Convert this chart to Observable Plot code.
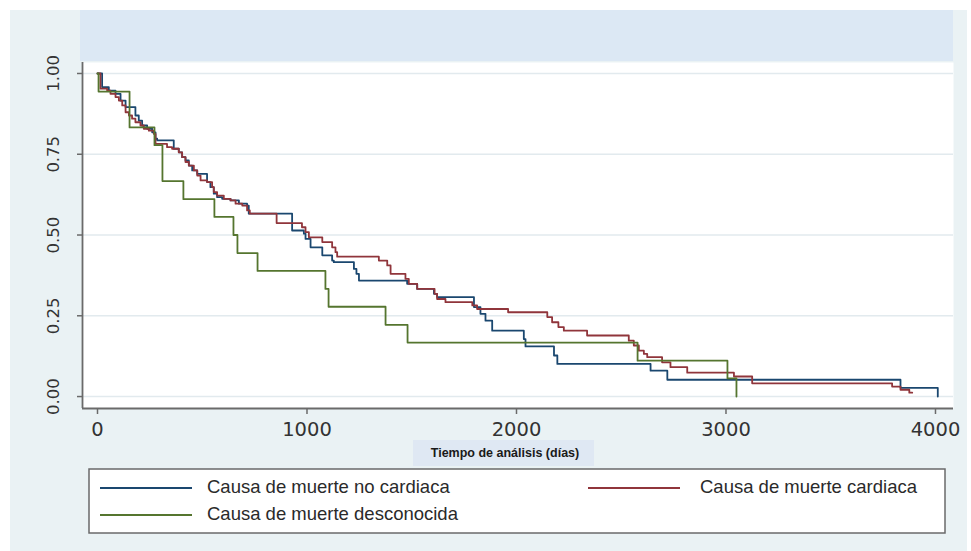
<!DOCTYPE html>
<html>
<head>
<meta charset="utf-8">
<script src="https://cdn.jsdelivr.net/npm/d3@7"></script>
<script src="https://cdn.jsdelivr.net/npm/@observablehq/plot@0.6"></script>
<style>
  html, body { margin: 0; padding: 0; background: #ffffff; }
  #chart svg { display: block; }
</style>
</head>
<body>
<div id="chart"></div>
<script>
// ---------------- DATA ----------------
const seriesNames = ["Causa de muerte no cardiaca", "Causa de muerte cardiaca", "Causa de muerte desconocida"];
const seriesColors = ["#1a476f", "#90353b", "#55752f"];

// Kaplan–Meier: causa de muerte no cardiaca
const tNoCardiaca = [0,22,54,86,110,134,181,197,213,237,261,277,285,364,388,404,420,436,452,476,523,539,555,571,595,635,675,714,722,929,985,993,1017,1073,1120,1128,1224,1236,1248,1478,1526,1606,1621,1797,1828,1852,1884,2035,2043,2179,2195,2640,2720,3833,4011];
const sNoCardiaca = [1,0.958,0.947,0.937,0.916,0.896,0.870,0.854,0.839,0.829,0.818,0.798,0.793,0.767,0.756,0.741,0.731,0.715,0.700,0.689,0.664,0.648,0.628,0.617,0.612,0.607,0.597,0.591,0.566,0.514,0.504,0.488,0.462,0.437,0.421,0.416,0.395,0.380,0.359,0.349,0.333,0.318,0.308,0.277,0.256,0.235,0.204,0.178,0.155,0.127,0.101,0.080,0.052,0.027,0];

// Kaplan–Meier: causa de muerte cardiaca
const tCardiaca = [0,14,46,62,86,102,118,134,150,165,181,205,221,245,269,277,332,356,388,404,420,436,460,476,492,523,547,555,571,603,635,659,691,714,727,855,976,993,1009,1073,1120,1136,1144,1343,1383,1399,1470,1486,1526,1609,1621,1661,1789,1812,1960,2147,2170,2200,2226,2337,2536,2560,2584,2608,2624,2695,2735,2815,3038,3125,3793,3833,3875,3889];
const sCardiaca = [1,0.953,0.947,0.937,0.927,0.916,0.901,0.880,0.870,0.860,0.849,0.839,0.829,0.823,0.813,0.782,0.772,0.767,0.756,0.741,0.726,0.715,0.700,0.684,0.669,0.664,0.648,0.633,0.622,0.612,0.607,0.597,0.591,0.576,0.566,0.537,0.524,0.509,0.493,0.478,0.462,0.447,0.433,0.421,0.406,0.380,0.364,0.349,0.333,0.318,0.302,0.292,0.282,0.271,0.261,0.246,0.230,0.215,0.204,0.189,0.173,0.158,0.142,0.132,0.122,0.106,0.091,0.074,0.062,0.041,0.031,0.021,0.012,0.012];

// Kaplan–Meier: causa de muerte desconocida
const tDesconocida = [0,5,153,272,310,410,558,649,668,764,1088,1103,1375,1480,2578,3007,3050];
const sDesconocida = [1,0.944,0.833,0.778,0.667,0.611,0.556,0.5,0.444,0.389,0.333,0.278,0.222,0.167,0.111,0.056,0];

const xTicks = [0, 1000, 2000, 3000, 4000];
const yTicks = [0, 0.25, 0.5, 0.75, 1];
const xTitle = "Tiempo de análisis (días)";

// ---------------- BUILD ----------------
const seriesTimes = [tNoCardiaca, tCardiaca, tDesconocida];
const seriesSurv = [sNoCardiaca, sCardiaca, sDesconocida];
const rows = [];
seriesNames.forEach((name, i) => {
  seriesTimes[i].forEach((t, j) => rows.push({group: name, t, s: seriesSurv[i][j]}));
});

const W = 971, H = 551;
const xDomain = [-71.6, 4086];
const yDomain = [-0.037, 1.034];
const axisColor = "#6a6a6a";
const textColor = "#333333";

const chart = Plot.plot({
  width: W,
  height: H,
  marginLeft: 82,
  marginRight: 18,
  marginTop: 62,
  marginBottom: 143,
  x: {domain: xDomain},
  y: {domain: yDomain},
  color: {domain: seriesNames, range: seriesColors},
  style: {background: "transparent", fontFamily: "'DejaVu Sans', sans-serif", color: textColor, overflow: "visible"},
  marks: [
    Plot.frame({fill: "#ffffff", stroke: null}),
    Plot.gridY(yTicks, {stroke: "#e2eaee", strokeOpacity: 1, strokeWidth: 1.6}),
    Plot.line(rows, {x: "t", y: "s", z: "group", stroke: "group", curve: "step-after", strokeWidth: 1.8}),
    Plot.ruleX([xDomain[0]], {stroke: axisColor, strokeWidth: 1.8}),
    Plot.ruleY([yDomain[0]], {stroke: axisColor, strokeWidth: 1.8}),
    Plot.axisX(xTicks, {tickSize: 6, tickPadding: 8, fontSize: 19.5, stroke: axisColor, strokeWidth: 1.5, fill: textColor, label: null, tickFormat: d => String(d)}),
    Plot.axisY(yTicks, {tickSize: 5, stroke: axisColor, strokeWidth: 1.5, tickFormat: () => "", label: null}),
    Plot.text(yTicks, {y: d => d, text: d => d3.format(".2f")(d), frameAnchor: "left", dx: -29, rotate: -90, textAnchor: "middle", lineAnchor: "middle", fontSize: 16.5, fill: textColor})
  ]
});

// ---------------- DECORATION (background panels, x title, legend) ----------------
const svg = d3.select(chart);
const bg = svg.insert("g", ":first-child");
bg.append("rect").attr("x", 10).attr("y", 10).attr("width", W - 14).attr("height", H - 10).attr("fill", "#eaf2f4");
bg.append("rect").attr("x", 80).attr("y", 10).attr("width", 873).attr("height", 51).attr("fill", "#dce8f4");

const deco = svg.append("g").attr("text-anchor", "start");
// x axis title
deco.append("rect").attr("x", 413).attr("y", 440).attr("width", 181).attr("height", 26).attr("fill", "#dfe8f3");
deco.append("text").attr("x", 505).attr("y", 454).attr("text-anchor", "middle").attr("dominant-baseline", "middle")
  .attr("font-family", "'Liberation Sans', Arial, sans-serif").attr("font-weight", "bold").attr("font-size", 12.5).attr("fill", "#1a1a1a")
  .text(xTitle);

// legend
deco.append("rect").attr("x", 89).attr("y", 469).attr("width", 856).attr("height", 64)
  .attr("fill", "#ffffff").attr("stroke", axisColor).attr("stroke-width", 1.5);
const legendPos = [
  {lx: 100, tx: 207, y: 488},
  {lx: 588, tx: 700, y: 488},
  {lx: 100, tx: 207, y: 515}
];
seriesNames.forEach((name, i) => {
  const p = legendPos[i];
  deco.append("line").attr("x1", p.lx).attr("x2", p.lx + 92).attr("y1", p.y).attr("y2", p.y)
    .attr("stroke", seriesColors[i]).attr("stroke-width", 2);
  deco.append("text").attr("x", p.tx).attr("y", p.y).attr("text-anchor", "start").attr("dominant-baseline", "middle")
    .attr("font-family", "'Liberation Sans', Arial, sans-serif").attr("font-size", 18.5).attr("fill", "#2a2a2a")
    .text(name);
});

document.getElementById("chart").appendChild(chart);
</script>
</body>
</html>
